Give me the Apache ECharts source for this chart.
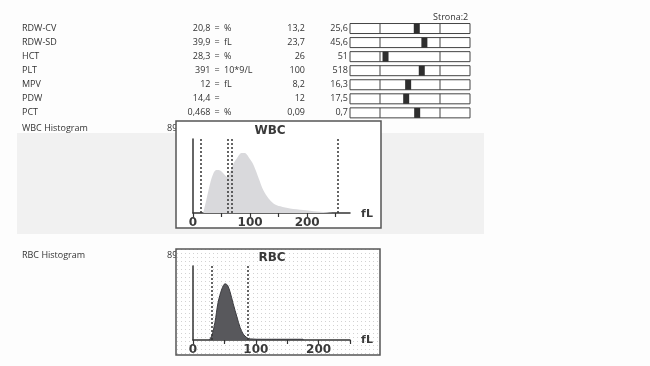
<!DOCTYPE html>
<html><head><meta charset="utf-8">
<script src="https://cdn.jsdelivr.net/npm/echarts@6/dist/echarts.min.js"></script>
<style>html,body{margin:0;padding:0;background:#fdfdfd;}#c{width:650px;height:366px;}</style>
</head><body><div id="c"></div>
<script>
// ---- data ----
const rowNames = ['RDW-CV','RDW-SD','HCT','PLT','MPV','PDW','PCT'];
const rowValues = [20.8, 39.9, 28.3, 391, 12, 14.4, 0.468];
const rowUnits = ['%','fL','%','10*9/L','fL','','%'];
const rowLow = [13.2, 23.7, 26, 100, 8.2, 12, 0.09];
const rowHigh = [25.6, 45.6, 51, 518, 16.3, 17.5, 0.7];

const wbcFl =    [18, 24, 30, 36, 41, 45, 50, 55, 59, 65, 71, 77, 85, 91, 97, 106, 115, 123, 132, 141, 153, 170, 193, 217, 240, 253];
const wbcCount = [0, 20, 40, 54, 58, 58, 56, 52, 49, 56, 67, 74, 81, 81, 76, 65, 47, 31, 20, 13, 9, 6, 4, 2, 0.5, 0];
const wbcMarks = [14, 60, 68, 253];

const rbcFl =    [26, 30, 35, 40, 46, 51, 55, 59, 64, 70, 75, 80, 86, 91, 110, 140, 175, 176];
const rbcCount = [0, 6, 24, 51, 69, 76, 74, 65, 49, 31, 17, 8, 3, 1.5, 1, 1, 1, 0];
const rbcMarks = [30, 87];

const xTickValues = [0, 50, 100, 150, 200, 250];
const xLabelValues = [0, 100, 200];

// ---- build ----
const fmt = v => String(v).replace('.', ',');
const tableData = rowNames.map((n, i) => [i, 1 + 2 * (rowValues[i] - rowLow[i]) / (rowHigh[i] - rowLow[i])]);
const TXT = '#333';
const FONT = '"Open Sans", sans-serif';

function tableItem(params, api) {
  const i = api.value(0);
  const pos = api.value(1);
  const p0 = api.coord([0, i]);
  const p1 = api.coord([1, i]);
  const p3 = api.coord([3, i]);
  const p4 = api.coord([4, i]);
  const pm = api.coord([pos, i]);
  const y = p0[1];
  const h = 10;
  const ts = (x, text, align) => ({type:'text', style:{x:x, y:y, text:text, align:align, verticalAlign:'middle', fill:TXT, font:'9px ' + FONT}});
  return {type:'group', children:[
    ts(22, rowNames[i], 'left'),
    ts(210.5, fmt(rowValues[i]), 'right'),
    ts(214.5, '=', 'left'),
    ts(224, rowUnits[i], 'left'),
    ts(305, fmt(rowLow[i]), 'right'),
    ts(348, fmt(rowHigh[i]), 'right'),
    {type:'rect', shape:{x:p0[0], y:y - h/2, width:p4[0]-p0[0], height:h}, style:{fill:'#fff', stroke:'#444', lineWidth:1}},
    {type:'line', shape:{x1:p1[0], y1:y - h/2, x2:p1[0], y2:y + h/2}, style:{stroke:'#444', lineWidth:1}},
    {type:'line', shape:{x1:p3[0], y1:y - h/2, x2:p3[0], y2:y + h/2}, style:{stroke:'#444', lineWidth:1}},
    {type:'rect', shape:{x:pm[0]-3, y:y - h/2, width:6, height:h}, style:{fill:'#2e2e2e'}}
  ]};
}

// dotted pattern for the RBC box
const pc = document.createElement('canvas');
pc.width = 4; pc.height = 4;
const pctx = pc.getContext('2d');
pctx.fillStyle = '#ffffff'; pctx.fillRect(0,0,4,4);
pctx.fillStyle = '#d2d2d2'; pctx.fillRect(1,1,1,1);

const axisText = {color:'#3a3a3a', fontFamily:'"DejaVu Sans", sans-serif', fontWeight:'bold', fontSize:12};

function histX(idx, max) {
  return {type:'value', gridIndex:idx, min:0, max:max, interval:50,
    axisLine:{show:true, onZero:false, lineStyle:{color:'#333', width:1.5}},
    axisTick:{show:true, length:4, customValues:xTickValues, lineStyle:{color:'#333', width:1.2}},
    axisLabel:{show:true, customValues:xLabelValues, margin:4, ...axisText},
    splitLine:{show:false}};
}
function histY(idx) {
  return {type:'value', gridIndex:idx, min:0, max:100,
    axisLine:{show:true, lineStyle:{color:'#333', width:1.5}},
    axisTick:{show:false}, axisLabel:{show:false}, splitLine:{show:false}};
}
function marks(arr) {
  return {symbol:'none', silent:true, label:{show:false},
    lineStyle:{type:[2,2], color:'#333', width:1.5},
    data: arr.map(v => ({xAxis:v}))};
}

const option = {
  animation:false,
  backgroundColor:'#fdfdfd',
  graphic:{elements:[
    {type:'rect', z:-30, shape:{x:17, y:133, width:467, height:101}, style:{fill:'#f1f1f1'}},
    {type:'text', z:-20, style:{x:433, y:17, text:'Strona:2', font:'9px ' + FONT, fill:TXT, verticalAlign:'middle'}},
    {type:'text', z:-20, style:{x:22, y:128, text:'WBC Histogram', font:'9px ' + FONT, fill:TXT, verticalAlign:'middle'}},
    {type:'text', z:-20, style:{x:22, y:255, text:'RBC Histogram', font:'9px ' + FONT, fill:TXT, verticalAlign:'middle'}},
    {type:'text', z:-20, style:{x:167, y:128, text:'89', font:'9px ' + FONT, fill:TXT, verticalAlign:'middle'}},
    {type:'text', z:-20, style:{x:167, y:255, text:'89', font:'9px ' + FONT, fill:TXT, verticalAlign:'middle'}},
    {type:'rect', z:-10, shape:{x:176, y:121, width:205, height:107}, style:{fill:'#ffffff', stroke:'#555', lineWidth:1.5}},
    {type:'rect', z:-10, shape:{x:176, y:249, width:204, height:106}, style:{fill:{image:pc, repeat:'repeat'}, stroke:'#555', lineWidth:1.5}},
    {type:'text', z:5, style:{x:270, y:131, text:'WBC', align:'center', verticalAlign:'middle', fill:'#3a3a3a', font:'bold 12px "DejaVu Sans", sans-serif'}},
    {type:'text', z:5, style:{x:272, y:258, text:'RBC', align:'center', verticalAlign:'middle', fill:'#3a3a3a', font:'bold 12px "DejaVu Sans", sans-serif'}},
    {type:'text', z:5, style:{x:367, y:214, text:'fL', align:'center', verticalAlign:'middle', fill:'#3a3a3a', font:'bold 11px "DejaVu Sans", sans-serif'}},
    {type:'text', z:5, style:{x:367, y:340, text:'fL', align:'center', verticalAlign:'middle', fill:'#3a3a3a', font:'bold 11px "DejaVu Sans", sans-serif'}}
  ]},
  grid:[
    {left:350, top:21.5, width:120, height:98.4},
    {left:193, top:139, width:157, height:74},
    {left:193, top:266, width:157, height:74}
  ],
  xAxis:[
    {type:'value', gridIndex:0, min:0, max:4, show:false},
    histX(1, 275),
    histX(2, 250)
  ],
  yAxis:[
    {type:'category', gridIndex:0, inverse:true, data:rowNames, show:false},
    histY(1),
    histY(2)
  ],
  series:[
    {type:'custom', xAxisIndex:0, yAxisIndex:0, renderItem:tableItem, data:tableData, silent:true},
    {type:'line', xAxisIndex:1, yAxisIndex:1, smooth:0.3, symbol:'none',
     data: wbcFl.map((x, i) => [x, wbcCount[i]]),
     lineStyle:{width:0}, areaStyle:{color:'#d9d9dc', opacity:1}, markLine: marks(wbcMarks), z:1},
    {type:'line', xAxisIndex:2, yAxisIndex:2, smooth:0.3, symbol:'none',
     data: rbcFl.map((x, i) => [x, rbcCount[i]]),
     lineStyle:{width:1, color:'#3c3c40'}, areaStyle:{color:'#58585c', opacity:1}, markLine: marks(rbcMarks), z:1}
  ]
};
const chart = echarts.init(document.getElementById('c'), null, {renderer:'canvas'});
chart.setOption(option);
</script></body></html>
